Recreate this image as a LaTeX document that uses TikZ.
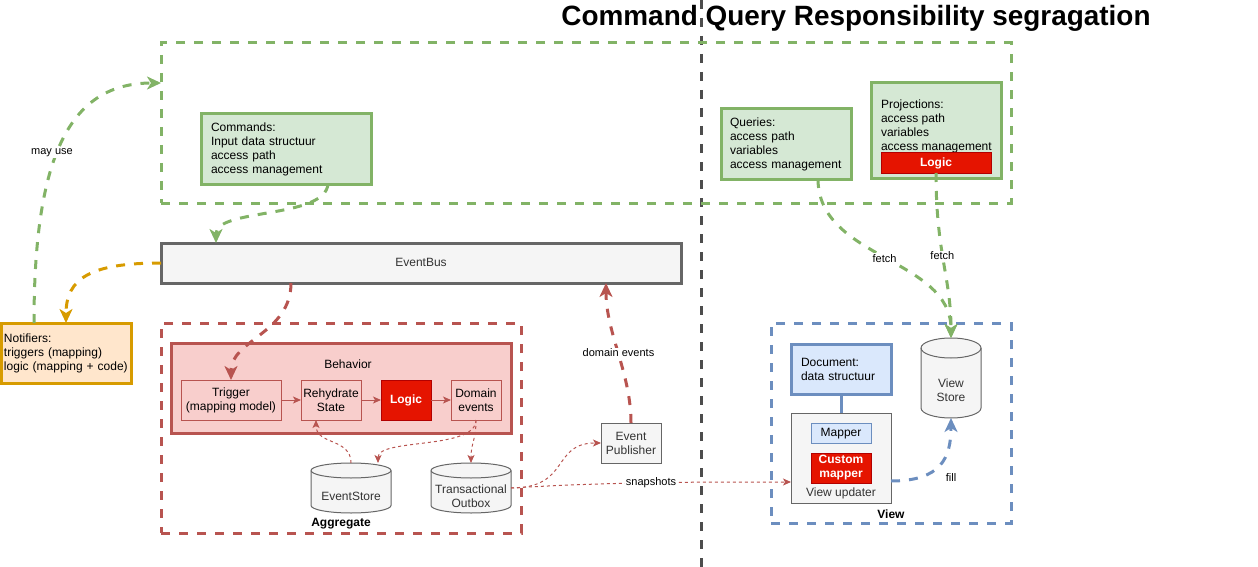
\documentclass[tikz,border=0pt]{standalone}
\usepackage{fontspec}
\setmainfont{Liberation Sans}
\usetikzlibrary{arrows.meta}

\definecolor{greenline}{HTML}{82B366}
\definecolor{greenfill}{HTML}{D5E8D4}
\definecolor{redline}{HTML}{B85450}
\definecolor{redfill}{HTML}{F8CECC}
\definecolor{blueline}{HTML}{6C8EBF}
\definecolor{bluefill}{HTML}{DAE8FC}
\definecolor{orangeline}{HTML}{D79B00}
\definecolor{orangefill}{HTML}{FFE6CC}
\definecolor{grayline}{HTML}{666666}
\definecolor{grayfill}{HTML}{F5F5F5}
\definecolor{graytext}{HTML}{333333}
\definecolor{logicfill}{HTML}{E51400}
\definecolor{logicline}{HTML}{B20000}
\definecolor{dividerline}{HTML}{4D4D4D}

\pgfdeclarelayer{background}
\pgfsetlayers{background,main}

\tikzset{
  every node/.style={font=\fontsize{12}{14}\selectfont, inner sep=0pt, outer sep=0pt},
  zone/.style={draw, line width=3pt, dash pattern=on 9pt off 9pt},
  note/.style={draw, line width=3pt, align=left},
  part/.style={draw=redline, fill=redfill, line width=1pt, align=center},
  graybox/.style={draw=grayline, fill=grayfill, text=graytext, line width=1pt, align=center},
  logicbox/.style={draw=logicline, fill=logicfill, text=white, line width=1pt, align=center,
    font=\fontsize{12}{14}\selectfont\bfseries},
  boldtext/.style={font=\fontsize{12}{14}\selectfont\bfseries},
  oneline/.style={text height=8.8pt, text depth=2.2pt},
  flow/.style={line width=3pt, dash pattern=on 9pt off 9pt, -{Stealth[length=14pt,width=13pt,inset=4pt]}},
  dotflow/.style={redline, line width=1pt, dash pattern=on 3pt off 3pt, -{Stealth[length=8pt,width=7pt,inset=2pt]}},
  solidflow/.style={redline, line width=1pt, -{Stealth[length=8pt,width=7pt,inset=2pt]}},
  tag/.style={fill=white, text=black, inner sep=1pt, font=\fontsize{11}{13}\selectfont},
}

% cylinder behind a named node: node, x radius, y radius
\newcommand\drawcyl[3]{%
  \begin{pgfonlayer}{background}
    \draw[draw=grayline, fill=grayfill, line width=1pt]
      ([yshift=-#3]#1.north west) -- ([yshift=#3]#1.south west)
      arc[start angle=180, end angle=360, x radius=#2, y radius=#3]
      -- ([yshift=-#3]#1.north east)
      arc[start angle=0, end angle=180, x radius=#2, y radius=#3] -- cycle;
    \draw[draw=grayline, line width=1pt] ([yshift=-#3]#1.north west)
      arc[start angle=180, end angle=360, x radius=#2, y radius=#3];
  \end{pgfonlayer}}

\begin{document}
\begin{tikzpicture}[x=1pt,y=-1pt]
  \useasboundingbox (0,0) rectangle (1258,567);
  \draw[dividerline, line width=3pt, dash pattern=on 9pt off 9pt] (701,0) -- (701,567);
  \node (title) at (856,18) {\fontsize{27.9}{32}\selectfont\bfseries Command Query Responsibility segragation};

  % commands and queries
  \node (model) [zone, draw=greenline, minimum width=850pt, minimum height=160pt] at (586,123) {};
  \node (cmd) [note, draw=greenline, fill=greenfill, minimum height=70pt, text width=150pt, inner xsep=10pt]
    at (286,149) {Commands:\\Input data structuur\\access path\\access management};
  \node (qry) [note, draw=greenline, fill=greenfill, minimum height=70pt, text width=112pt, inner xsep=9pt]
    at (786,144) {Queries:\\access path\\variables\\access management};
  \node (proj) [note, draw=greenline, fill=greenfill, minimum width=130pt, minimum height=95pt] at (936,130.5) {};
  \node (projtxt) [anchor=north west, align=left] at (881,99.5) {Projections:\\access path\\variables\\access management};
  \node (plog) [logicbox, oneline, minimum width=110pt, minimum height=20pt] at (936,163) {Logic};

  \node (bus) [graybox, oneline, line width=3pt, minimum width=520pt, minimum height=40pt] at (421,263) {EventBus};
  \node (ntf) [note, draw=orangeline, fill=orangefill, minimum height=60pt, text width=124pt, inner xsep=3pt]
    at (66,353) {Notifiers:\\triggers (mapping)\\logic (mapping + code)};

  % aggregate
  \node (agg) [zone, draw=redline, minimum width=360pt, minimum height=210pt] at (341,428) {};
  \node (agglbl) [boldtext] at (341,524) {Aggregate};
  \node (beh) [draw=redline, fill=redfill, line width=3pt, minimum width=340pt, minimum height=90pt] at (341,388) {};
  \node (behlbl) at (348,364) {Behavior};
  \node (trig) [part, minimum width=100pt, minimum height=40pt] at (231,400) {Trigger\\(mapping model)};
  \node (reh) [part, minimum width=60pt, minimum height=40pt] at (331,400) {Rehydrate\\State};
  \node (alog) [logicbox, oneline, minimum width=50pt, minimum height=40pt] at (406,400) {Logic};
  \node (dom) [part, minimum width=50pt, minimum height=40pt] at (476,400) {Domain\\events};

  \node (es) [minimum width=80pt, minimum height=50pt] at (351,488) {};
  \drawcyl{es}{40pt}{7.5pt}
  \node (estxt) [text=graytext] at (351,496) {EventStore};
  \node (ob) [minimum width=80pt, minimum height=50pt] at (471,488) {};
  \drawcyl{ob}{40pt}{7.5pt}
  \node (obtxt) [text=graytext, align=center] at (471,496) {Transactional\\Outbox};
  \node (pub) [graybox, minimum width=60pt, minimum height=40pt] at (631,443) {Event\\Publisher};

  % view
  \node (view) [zone, draw=blueline, minimum width=240pt, minimum height=200pt] at (891,423) {};
  \node (viewlbl) [boldtext] at (891,514) {View};
  \node (doc) [note, draw=blueline, fill=bluefill, minimum height=50pt, text width=80pt, inner xsep=10pt]
    at (841,369) {Document:\\data structuur};
  \node (vu) [graybox, minimum width=100pt, minimum height=90pt] at (841,458) {};
  \node (vutxt) [text=graytext, oneline] at (841,493) {View updater};
  \node (map) [draw=blueline, fill=bluefill, line width=1pt, oneline, minimum width=60pt, minimum height=20pt] at (841,433) {Mapper};
  \node (cmap) [logicbox, minimum width=60pt, minimum height=30pt] at (841,468) {Custom\\mapper};
  \node (vs) [minimum width=60pt, minimum height=80pt] at (951,378) {};
  \drawcyl{vs}{30pt}{10pt}
  \node (vstxt) [text=graytext, align=center] at (951,390) {View\\Store};
  \draw[blueline, line width=3pt] (doc) -- (vu);

  % connectors
  \draw[flow, greenline] ([xshift=42pt]cmd.south) .. controls +(-3,35) and +(0,-35) .. ([xshift=-205pt]bus.north);
  \draw[flow, greenline] ([xshift=-32pt]ntf.north) .. controls +(0,-170) and +(-90,0) .. ([yshift=40pt]model.west);
  \node (mayuse) [tag] at (52,153) {may use};
  \draw[flow, orangeline] (bus.west) .. controls +(-70,0) and +(0,-45) .. (ntf.north);
  \draw[flow, redline] ([xshift=-130pt]bus.south) .. controls +(0,50) and +(0,-40) .. (trig.north);
  \draw[flow, redline] (pub.north) .. controls +(0,-50) and +(0,50) .. ([xshift=185pt]bus.south)
    node[tag, pos=0.5] {domain events};
  \draw[solidflow] (trig) -- (reh);
  \draw[solidflow] (reh) -- (alog);
  \draw[solidflow] (alog) -- (dom);
  \draw[dotflow] (es.north) .. controls +(0,-25) and +(0,25) .. ([xshift=-15pt]reh.south);
  \draw[dotflow] (dom.south) .. controls +(0,30) and +(0,-25) .. ([xshift=27pt]es.north);
  \draw[dotflow] (dom.south) .. controls +(0,20) and +(0,-20) .. (ob.north);
  \draw[dotflow] (ob.east) .. controls +(60,0) and +(-50,0) .. (pub.west);
  \draw[dotflow] (ob.east) .. controls +(100,-6) and +(-100,0) .. ([yshift=-24pt]vu.west)
    node[tag, pos=0.5] {snapshots};
  \draw[flow, greenline] ([xshift=32pt]qry.south) .. controls +(0,80) and +(0,-80) .. (vs.north)
    node[tag, pos=0.5] {fetch};
  \draw[flow, greenline] (plog.south) .. controls +(0,80) and +(0,-60) .. (vs.north)
    node[tag, pos=0.45] {fetch};
  \draw[flow, blueline] ([yshift=-23pt]vu.east) .. controls +(50,0) and +(0,40) .. (vs.south);
  \node (filltag) [tag] at (951,478) {fill};
\end{tikzpicture}
\end{document}
